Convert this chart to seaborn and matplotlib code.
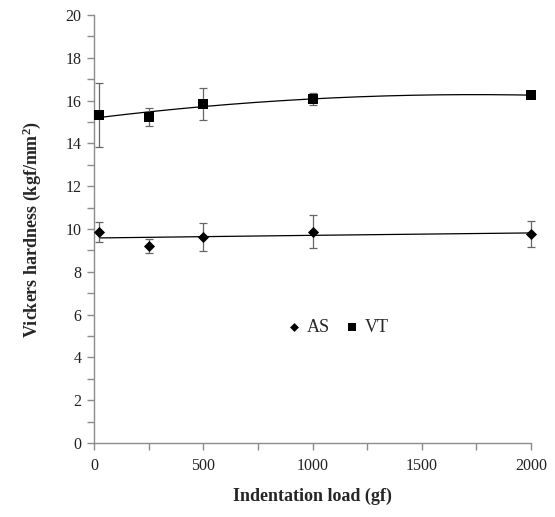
import matplotlib
matplotlib.use("Agg")
import matplotlib.pyplot as plt
from matplotlib.ticker import MultipleLocator
import numpy as np
import pandas as pd
import seaborn as sns

loads = [25, 250, 500, 1000, 2000]
as_hv = [9.86, 9.22, 9.62, 9.88, 9.78]
as_err = [0.48, 0.32, 0.66, 0.78, 0.6]
vt_hv = [15.33, 15.22, 15.86, 16.08, 16.25]
vt_err = [1.5, 0.42, 0.75, 0.28, 0.1]

df = pd.DataFrame({
    "load": loads * 2,
    "hv": as_hv + vt_hv,
    "err": as_err + vt_err,
    "sample": ["AS"] * 5 + ["VT"] * 5,
})

sns.set_style("ticks")
plt.rcParams["font.family"] = ["Liberation Serif", "DejaVu Serif"]
plt.rcParams["mathtext.fontset"] = "custom"
plt.rcParams["mathtext.rm"] = "Liberation Serif"
plt.rcParams["mathtext.bf"] = "Liberation Serif:bold"

fig = plt.figure(figsize=(5.55, 5.17), dpi=100)
ax = fig.add_axes([0.1694, 0.1431, 0.7874, 0.8279])

grey = "#8c8c8c"

# polynomial (2nd order) trend lines
xs = np.linspace(25, 2000, 200)
for name in ["AS", "VT"]:
    sub = df[df["sample"] == name]
    coef = np.polyfit(sub["load"], sub["hv"], 2)
    sns.lineplot(x=xs, y=np.polyval(coef, xs), ax=ax, color="black",
                 linewidth=0.9, legend=False)

# error bars
for name in ["AS", "VT"]:
    sub = df[df["sample"] == name]
    eb = ax.errorbar(sub["load"], sub["hv"], yerr=sub["err"], fmt="none",
                     ecolor="#666666", elinewidth=0.9, capsize=3,
                     capthick=0.9, zorder=2)
    for art in eb.lines[1] + eb.lines[2]:
        art.set_clip_on(False)

styles = {"AS": ("D", 32), "VT": ("s", 55)}
for name in ["AS", "VT"]:
    sub = df[df["sample"] == name]
    m, size = styles[name]
    sns.scatterplot(x=sub["load"], y=sub["hv"], marker=m, color="black",
                    s=size, linewidth=0, ax=ax, zorder=3, label=name,
                    clip_on=False)

ax.set_xlim(0, 2000)
ax.set_ylim(0, 20)
ax.xaxis.set_major_locator(MultipleLocator(500))
ax.xaxis.set_minor_locator(MultipleLocator(250))
ax.yaxis.set_major_locator(MultipleLocator(2))
ax.yaxis.set_minor_locator(MultipleLocator(1))

for s in ["top", "right"]:
    ax.spines[s].set_visible(False)
for s in ["left", "bottom"]:
    ax.spines[s].set_color(grey)
    ax.spines[s].set_linewidth(1.0)

ax.tick_params(which="both", direction="out", length=5, color=grey,
               width=1.0, labelsize=11.5, labelcolor="#222222")
ax.tick_params(axis="x", which="major", pad=6)
ax.tick_params(axis="y", which="major", pad=4)

ax.set_xlabel("Indentation load (gf)", fontsize=13, fontweight="bold",
              labelpad=10)
ax.set_ylabel(r"Vickers hardness (kgf/mm$\mathbf{^2}$)", fontsize=13,
              fontweight="bold", labelpad=16)

handles, labels = ax.get_legend_handles_labels()
ax.legend(handles, labels, ncol=2, frameon=False, loc="center left",
          bbox_to_anchor=(0.405, 0.27), handlelength=0.8, handletextpad=0.3,
          columnspacing=0.8, fontsize=13, markerscale=0.8)

fig.savefig("out.png", dpi=100)
